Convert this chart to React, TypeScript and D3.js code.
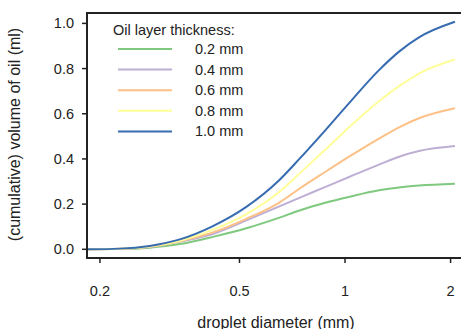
import React from "react";
import * as d3 from "d3";

const diameters = [0.1837, 0.228, 0.277, 0.338, 0.42, 0.523, 0.65, 0.741, 0.873, 1.027, 1.25, 1.426, 1.625, 2.058];
const thickness02 = [0, 0.001, 0.007, 0.023, 0.055, 0.093, 0.14, 0.172, 0.205, 0.232, 0.261, 0.274, 0.282, 0.29];
const thickness04 = [0, 0.002, 0.01, 0.034, 0.068, 0.128, 0.19, 0.228, 0.274, 0.32, 0.375, 0.41, 0.435, 0.457];
const thickness06 = [0, 0.002, 0.011, 0.036, 0.075, 0.135, 0.207, 0.268, 0.34, 0.41, 0.49, 0.54, 0.58, 0.624];
const thickness08 = [0, 0.002, 0.012, 0.038, 0.087, 0.156, 0.255, 0.335, 0.437, 0.54, 0.655, 0.722, 0.778, 0.84];
const thickness10 = [0, 0.003, 0.015, 0.044, 0.103, 0.188, 0.307, 0.4, 0.522, 0.647, 0.793, 0.875, 0.938, 1.007];

const seriesLabels = ["0.2 mm", "0.4 mm", "0.6 mm", "0.8 mm", "1.0 mm"];
const seriesColors = ["#7FC97F", "#BEAED4", "#FDC086", "#FFFF99", "#386CB0"];
const seriesValues = [thickness02, thickness04, thickness06, thickness08, thickness10];

const xTicks = [0.2, 0.5, 1, 2];
const xTickLabels = ["0.2", "0.5", "1", "2"];
const yTicks = [0, 0.2, 0.4, 0.6, 0.8, 1.0];

const FONT = "'Liberation Sans', Arial, sans-serif";
const INK = "#222";

export default function App() {
  const left = 87, right = 463, top = 13, bottom = 258;
  const x = d3.scaleLog().domain([0.1837, 2.17]).range([left, right]);
  const y = d3.scaleLinear().domain([-0.0385, 1.046]).range([bottom, top]);
  const line = d3
    .line<[number, number]>()
    .x((d) => x(d[0]))
    .y((d) => y(d[1]))
    .curve(d3.curveMonotoneX);

  return (
    <svg
      width={461}
      height={329}
      style={{ position: "absolute", left: 0, top: 0, background: "#fff" }}
      fontFamily={FONT}
    >
      {seriesValues.map((vals, i) => (
        <path
          key={i}
          d={line(diameters.map((d, j) => [d, vals[j]] as [number, number])) || ""}
          fill="none"
          stroke={seriesColors[i]}
          strokeWidth={2}
        />
      ))}
      {/* frame */}
      <path
        d={`M${right},${top}H${left}V${bottom}H${right}`}
        fill="none"
        stroke={INK}
        strokeWidth={2}
      />
      {/* y axis ticks */}
      {yTicks.map((t) => (
        <g key={t}>
          <line x1={left - 5} x2={left} y1={y(t)} y2={y(t)} stroke={INK} strokeWidth={1.5} />
          <text x={left - 13} y={y(t)} dy="0.35em" textAnchor="end" fontSize={14.5} fill={INK}>
            {t.toFixed(1)}
          </text>
        </g>
      ))}
      {/* x axis ticks */}
      {xTicks.map((t, i) => (
        <g key={t}>
          <line x1={x(t)} x2={x(t)} y1={bottom} y2={bottom + 5} stroke={INK} strokeWidth={1.5} />
          <text x={x(t)} y={296} textAnchor="middle" fontSize={14.5} fill={INK}>
            {xTickLabels[i]}
          </text>
        </g>
      ))}
      <text x={276} y={328} textAnchor="middle" fontSize={16} fill={INK}>
        droplet diameter (mm)
      </text>
      <text
        transform={`translate(20,134.5) rotate(-90)`}
        textAnchor="middle"
        fontSize={16}
        fill={INK}
      >
        (cumulative) volume of oil (ml)
      </text>
      {/* legend */}
      <text x={113} y={35} fontSize={14.5} fill={INK}>
        Oil layer thickness:
      </text>
      {seriesLabels.map((lab, i) => {
        const ly = 49 + i * 20.6;
        return (
          <g key={lab}>
            <line x1={118} x2={172} y1={ly} y2={ly} stroke={seriesColors[i]} strokeWidth={2} />
            <text x={195} y={ly} dy="0.35em" fontSize={14.5} fill={INK}>
              {lab}
            </text>
          </g>
        );
      })}
    </svg>
  );
}
